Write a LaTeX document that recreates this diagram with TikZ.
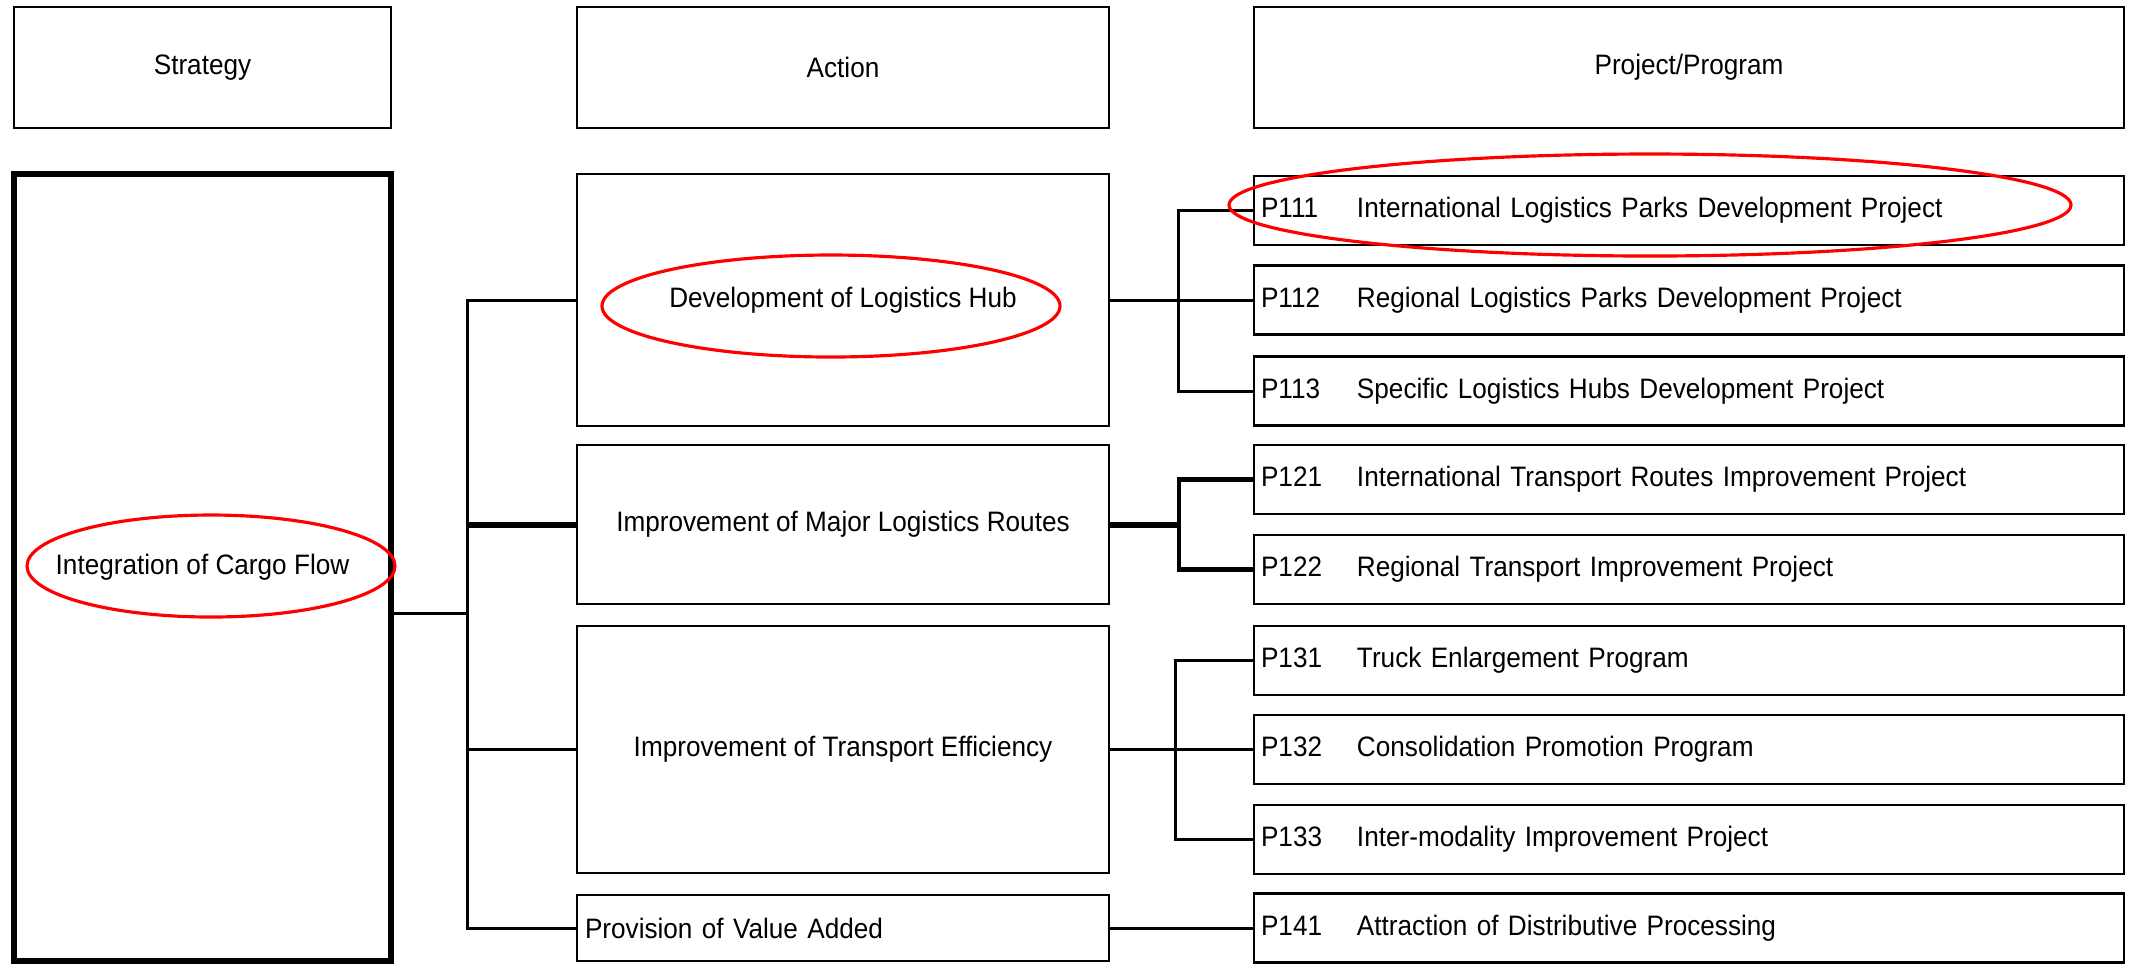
\documentclass[tikz,border=0pt]{standalone}
\usepackage{fontspec}
\setmainfont{Liberation Sans}[FakeStretch=0.93]
\usepackage{tikz}
\usetikzlibrary{calc}

\newcommand{\pid}[1]{\makebox[0.96cm][l]{#1}}

\begin{document}
\begin{tikzpicture}[
  y=-1cm,
  every node/.style = {shape=rectangle, draw, line width=0.7pt, inner sep=0pt, align=center,
                       font=\fontsize{8pt}{9.6pt}\selectfont},
  head/.style = {minimum height=1.21cm},
  act/.style = {minimum width=5.32cm},
  proj/.style = {minimum width=8.7cm, minimum height=0.69cm, text width=8.56cm,
                 inner xsep=0.07cm, align=left},
  link/.style = {line width=0.85pt},
  heavy/.style = {line width=1.7pt},
  redring/.style = {red, line width=0.9pt}
]
  \useasboundingbox (0,0) rectangle (21.34,9.63);

  \node[head, minimum width=3.77cm] (strathead) at (2.025,0.675) {Strategy};
  \node[head, act] (acthead) at (8.43,0.675) {Action};
  \node[head, minimum width=8.7cm] (projhead) at (16.89,0.675) {Project/Program};

  \node[minimum width=3.77cm, minimum height=7.87cm, line width=1.7pt] (strat) at (2.025,5.675)
        {Integration of Cargo Flow};

  \node[act, minimum height=2.52cm] (hub) at (8.43,3.00) {Development of Logistics Hub};
  \node[act, minimum height=1.59cm] (routes) at (8.43,5.245) {Improvement of Major Logistics Routes};
  \node[act, minimum height=2.47cm] (effic) at (8.43,7.495) {Improvement of Transport Efficiency};
  \node[act, minimum height=0.66cm, text width=5.16cm, inner xsep=0.08cm, align=left] (prov)
        at (8.43,9.28) {Provision of Value Added};

  \node[proj] (p111) at (16.89,2.105) {\pid{P111}International Logistics Parks Development Project};
  \node[proj] (p112) at (16.89,3.00)  {\pid{P112}Regional Logistics Parks Development Project};
  \node[proj] (p113) at (16.89,3.91)  {\pid{P113}Specific Logistics Hubs Development Project};
  \node[proj] (p121) at (16.89,4.795) {\pid{P121}International Transport Routes Improvement Project};
  \node[proj] (p122) at (16.89,5.695) {\pid{P122}Regional Transport Improvement Project};
  \node[proj] (p131) at (16.89,6.605) {\pid{P131}Truck Enlargement Program};
  \node[proj] (p132) at (16.89,7.495) {\pid{P132}Consolidation Promotion Program};
  \node[proj] (p133) at (16.89,8.395) {\pid{P133}Inter-modality Improvement Project};
  \node[proj] (p141) at (16.89,9.28)  {\pid{P141}Attraction of Distributive Processing};

  \coordinate (lsp) at (4.67,6.13);
  \coordinate (rs1) at (11.78,3.00);
  \coordinate (rs2) at (11.79,5.245);
  \coordinate (rs3) at (11.75,7.495);

  \draw[link] (strat.east |- lsp) -- (lsp);
  \draw[link] (hub.west) -| (lsp) |- (prov.west);
  \draw[heavy] (lsp |- routes.west) -- (routes.west);
  \draw[link] (lsp |- effic.west) -- (effic.west);

  \draw[link] (hub.east) -- (p112.west);
  \draw[link] (p111.west) -| (rs1) |- (p113.west);
  \draw[heavy] (routes.east) -- (rs2);
  \draw[link, line width=1.2pt] (p121.west) -| (rs2) |- (p122.west);
  \draw[link] (effic.east) -- (p132.west);
  \draw[link] (p131.west) -| (rs3) |- (p133.west);
  \draw[link] (prov.east) -- (p141.west);

  \draw[redring] (8.31,3.06) ellipse [x radius=2.29cm, y radius=0.51cm];
  \draw[redring] (2.11,5.66) ellipse [x radius=1.84cm, y radius=0.51cm];
  \draw[redring] (16.50,2.05) ellipse [x radius=4.21cm, y radius=0.51cm];
\end{tikzpicture}
\end{document}
